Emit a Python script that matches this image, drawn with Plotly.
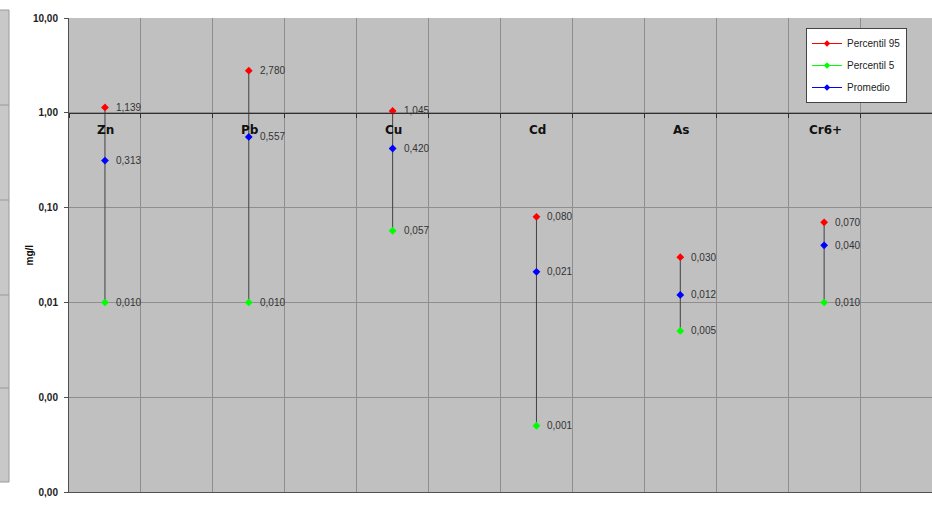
import math
import plotly.graph_objects as go

# ---- data ----
categories = ["Zn", "Pb", "Cu", "Cd", "As", "Cr6+"]
percentil_95 = [1.139, 2.780, 1.045, 0.080, 0.030, 0.070]
percentil_5 = [0.010, 0.010, 0.057, 0.0005, 0.005, 0.010]
promedio = [0.313, 0.557, 0.420, 0.021, 0.012, 0.040]
ytick_vals = [10, 1, 0.1, 0.01, 0.001, 0.0001]
ytick_text = ["10,00", "1,00", "0,10", "0,01", "0,00", "0,00"]
series_names = ["Percentil 95", "Percentil 5", "Promedio"]
series_colors = ["#ff0000", "#00ff00", "#0000ff"]

W, H = 932, 519
ML, MR, MT, MB = 69, 0, 18, 27
PW, PH = W - ML - MR, H - MT - MB

xpos = [2 * i + 0.5 for i in range(len(categories))]

def fmt(v):
    return f"{v:.3f}".replace(".", ",")

fig = go.Figure()

# hi-lo lines
hx, hy = [], []
for x, lo, hi in zip(xpos, percentil_5, percentil_95):
    hx += [x, x, None]
    hy += [lo, hi, None]
fig.add_trace(go.Scatter(x=hx, y=hy, mode="lines", line=dict(color="#404040", width=1),
                         showlegend=False, hoverinfo="skip"))

all_series = [percentil_95, percentil_5, promedio]
for name, col, vals in zip(series_names, series_colors, all_series):
    fig.add_trace(go.Scatter(x=xpos, y=vals, mode="markers",
                             marker=dict(symbol="diamond", size=6, color=col),
                             showlegend=False, name=name, legendgroup=name))
    # legend entry
    fig.add_trace(go.Scatter(x=[None], y=[None], mode="lines+markers", name=name,
                             legendgroup=name,
                             line=dict(color=col, width=1),
                             marker=dict(symbol="diamond", size=5, color=col)))

# dummy trace for crossing axis
fig.add_trace(go.Scatter(x=[None], y=[None], xaxis="x2", showlegend=False, hoverinfo="skip"))

annotations = []
for vals in all_series:
    for x, v in zip(xpos, vals):
        annotations.append(dict(x=x, y=math.log10(v), xref="x", yref="y",
                                text=fmt(v), showarrow=False, xanchor="left", yanchor="middle",
                                xshift=9, font=dict(family="Liberation Sans, Arial", size=10, color="#333333")))
for x, c in zip(xpos, categories):
    annotations.append(dict(x=x, y=0, xref="x", yref="y", text=f"<b>{c}</b>", showarrow=False,
                            xanchor="center", yanchor="middle", yshift=-17, xshift=1,
                            font=dict(family="DejaVu Sans", size=12, color="#111111")))
annotations.append(dict(x=(21 - ML) / PW, y=1 - (255 - MT) / PH, xref="paper", yref="paper",
                        text="<b>mg/l</b>", textangle=-90, showarrow=False,
                        font=dict(family="Liberation Sans, Arial", size=10, color="#111111")))

# cropped neighbouring panel at left edge
def px_x(p):
    return (p - ML) / PW

def px_y(p):
    return 1 - (p - MT) / PH

shapes = [dict(type="rect", xref="paper", yref="paper", x0=px_x(-2), x1=px_x(9),
               y0=px_y(482), y1=px_y(10), fillcolor="#c8c8c8",
               line=dict(color="#9a9a9a", width=1), layer="above")]
for yy in [105, 200, 295, 388]:
    shapes.append(dict(type="line", xref="paper", yref="paper", x0=px_x(0), x1=px_x(9),
                       y0=px_y(yy), y1=px_y(yy), line=dict(color="#9a9a9a", width=1)))

fig.update_layout(
    width=W, height=H,
    margin=dict(l=ML, r=MR, t=MT, b=MB, pad=0),
    paper_bgcolor="white", plot_bgcolor="#c0c0c0",
    font=dict(family="Liberation Sans, Arial", size=10, color="#222222"),
    xaxis=dict(range=[0, 12], dtick=1, tick0=0, showticklabels=False, showgrid=True,
               gridcolor="#8e8e8e", gridwidth=1, showline=True, linecolor="#505050",
               linewidth=1, zeroline=False, ticks="", fixedrange=True),
    xaxis2=dict(overlaying="x", anchor="free", position=0.8, range=[0, 12], dtick=1, tick0=0,
                showticklabels=False, showgrid=False, showline=True, linecolor="#303030",
                linewidth=1, ticks="outside", ticklen=4, tickcolor="#303030", zeroline=False),
    yaxis=dict(type="log", range=[-4, 1], tickvals=ytick_vals, ticktext=ytick_text,
               tickfont=dict(family="Liberation Sans, Arial", size=10, color="#222222", weight="bold"),
               ticks="outside", ticklen=4, tickcolor="#505050", showline=True, linecolor="#505050",
               linewidth=1, showgrid=True, gridcolor="#8e8e8e", gridwidth=1, zeroline=False,
               ticklabelstandoff=4),
    legend=dict(x=px_x(806), y=px_y(28), xanchor="left", yanchor="top",
                bgcolor="white", bordercolor="#444444", borderwidth=1,
                font=dict(family="Liberation Sans, Arial", size=10, color="#222222"),
                itemwidth=30, traceorder="grouped", tracegroupgap=3),
    annotations=annotations,
    shapes=shapes,
    showlegend=True,
)

fig.write_html("out.html")
